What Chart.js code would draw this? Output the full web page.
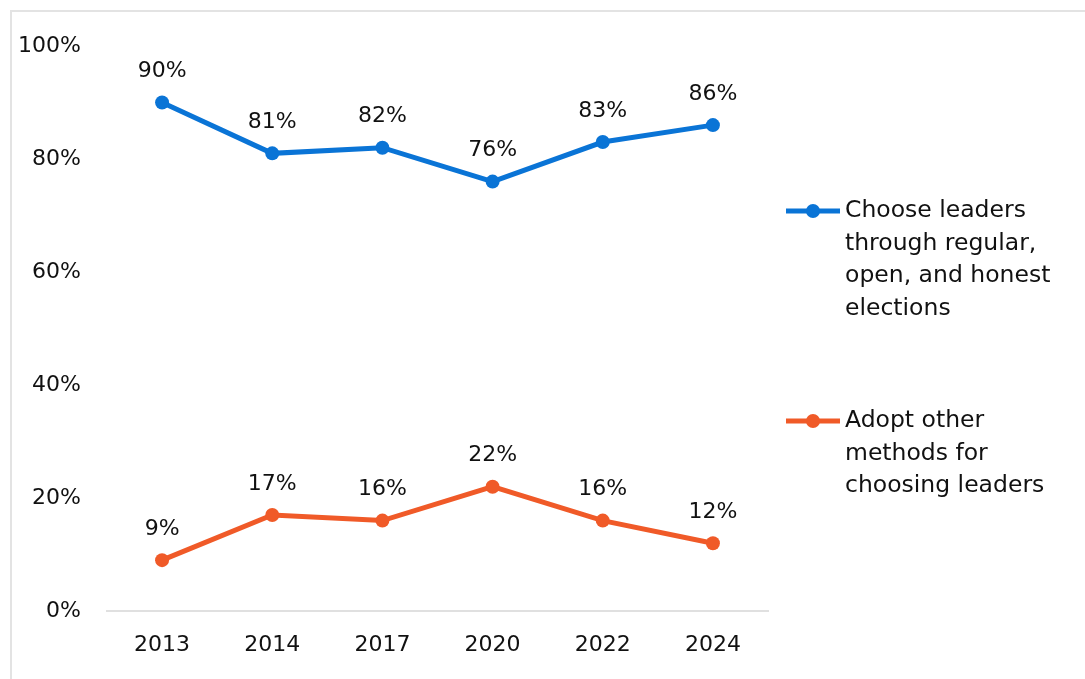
<!DOCTYPE html>
<html>
<head>
<meta charset="utf-8">
<script src="https://cdn.jsdelivr.net/npm/chart.js@4.4.1/dist/chart.umd.min.js"></script>
<style>
  html, body { margin: 0; padding: 0; background: #fff; }
  #frame { position: absolute; left: 10px; top: 10px; width: 1100px; height: 700px; border: 2px solid #e3e3e3; box-sizing: border-box; }
  #wrap { position: absolute; left: 0; top: 0; width: 1085px; height: 679px; }
</style>
</head>
<body>
<div id="frame"></div>
<div id="wrap"><canvas id="chart"></canvas></div>
<script>
const years = ['2013', '2014', '2017', '2020', '2022', '2024'];
const electionsShare = [90, 81, 82, 76, 83, 86];
const otherShare = [9, 17, 16, 22, 16, 12];
const seriesNames = [
  ['Choose leaders', 'through regular,', 'open, and honest', 'elections'],
  ['Adopt other', 'methods for', 'choosing leaders']
];
const yTicks = [0, 20, 40, 60, 80, 100];

const FONT = '"DejaVu Sans", sans-serif';
const BLUE = '#0a74d6';
const ORANGE = '#f05a28';

// value labels above each point
const pointLabels = {
  id: 'pointLabels',
  afterDatasetsDraw(chart) {
    const ctx = chart.ctx;
    ctx.save();
    ctx.font = '22px ' + FONT;
    ctx.fillStyle = '#111';
    ctx.textAlign = 'center';
    ctx.textBaseline = 'middle';
    chart.data.datasets.forEach((ds, i) => {
      chart.getDatasetMeta(i).data.forEach((pt, j) => {
        ctx.fillText(ds.data[j] + '%', pt.x, pt.y - 31);
      });
    });
    ctx.restore();
  }
};

// legend on the right with wrapped names
const sideLegend = {
  id: 'sideLegend',
  afterDraw(chart) {
    const ctx = chart.ctx;
    const tops = [211, 421];
    const lineGap = 32.5;
    ctx.save();
    chart.data.datasets.forEach((ds, i) => {
      const y = tops[i];
      ctx.strokeStyle = ds.borderColor;
      ctx.lineWidth = 5;
      ctx.beginPath();
      ctx.moveTo(786, y);
      ctx.lineTo(840, y);
      ctx.stroke();
      ctx.fillStyle = ds.borderColor;
      ctx.beginPath();
      ctx.arc(813, y, 7, 0, Math.PI * 2);
      ctx.fill();
      ctx.font = '23.5px ' + FONT;
      ctx.fillStyle = '#111';
      ctx.textAlign = 'left';
      ctx.textBaseline = 'middle';
      seriesNames[i].forEach((line, k) => {
        ctx.fillText(line, 845, y + k * lineGap);
      });
    });
    ctx.restore();
  }
};

new Chart(document.getElementById('chart'), {
  type: 'line',
  data: {
    labels: years,
    datasets: [
      {
        label: seriesNames[0].join(' '),
        data: electionsShare,
        borderColor: BLUE,
        backgroundColor: BLUE,
        borderWidth: 5,
        pointRadius: 7,
        pointBorderWidth: 0,
        pointHoverRadius: 7,
        tension: 0
      },
      {
        label: seriesNames[1].join(' '),
        data: otherShare,
        borderColor: ORANGE,
        backgroundColor: ORANGE,
        borderWidth: 5,
        pointRadius: 7,
        pointBorderWidth: 0,
        pointHoverRadius: 7,
        tension: 0
      }
    ]
  },
  options: {
    responsive: true,
    maintainAspectRatio: false,
    animation: false,
    layout: { padding: { left: 0, top: 46, right: 317, bottom: 0 } },
    plugins: {
      legend: { display: false },
      tooltip: { enabled: false }
    },
    scales: {
      x: {
        offset: true,
        grid: { display: false, drawTicks: false },
        border: { display: true, color: '#e0e0e0', width: 2 },
        ticks: { color: '#111', font: { family: FONT, size: 22 }, padding: 21 },
        afterFit(scale) { scale.height = 68; }
      },
      y: {
        min: 0,
        max: 100,
        afterBuildTicks(scale) { scale.ticks = yTicks.map(v => ({ value: v })); },
        grid: { display: false, drawTicks: false },
        border: { display: false },
        ticks: {
          color: '#111',
          font: { family: FONT, size: 22 },
          padding: 26,
          callback: v => v + '%'
        },
        afterFit(scale) { scale.width = 107; }
      }
    }
  },
  plugins: [pointLabels, sideLegend]
});
</script>
</body>
</html>
